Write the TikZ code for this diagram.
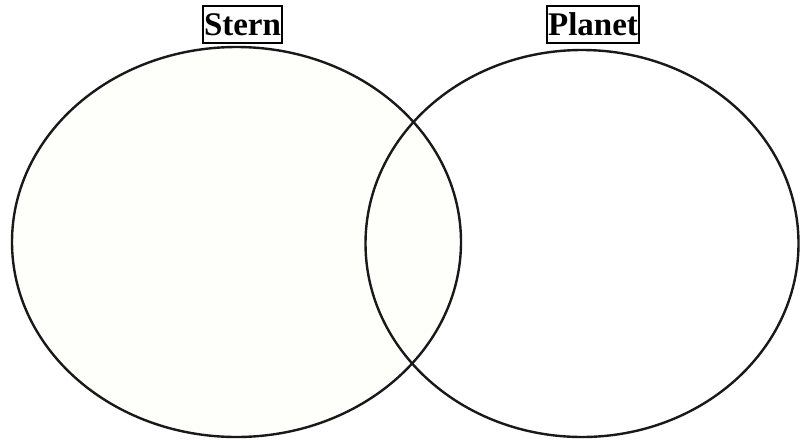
\documentclass[tikz,border=0pt]{standalone}
\usepackage{fontspec}
\setmainfont{Liberation Serif}
\definecolor{leftfill}{RGB}{254,254,251}
\tikzset{
  venn/.style={draw=black!90, line width=2.4pt},
  title/.style={draw=black, line width=1.8pt, inner xsep=0.8pt, inner ysep=0pt, font=\fontsize{33}{33}\selectfont\bfseries, minimum height=37pt, text height=23pt, text depth=2pt}
}
\begin{document}
\begin{tikzpicture}[x=1pt,y=-1pt]
\useasboundingbox (0,0) rectangle (800,439);
\fill[white] (0,0) rectangle (800,439);
\path[venn, fill=leftfill] (236.5,242) ellipse [x radius=224.5, y radius=195];
\path[venn] (582,243.5) ellipse [x radius=216.5, y radius=193.5];
\node[title] (stern) at (242.5,24.5) {Stern};
\node[title] (planet) at (593,24.5) {Planet};
\end{tikzpicture}
\end{document}
